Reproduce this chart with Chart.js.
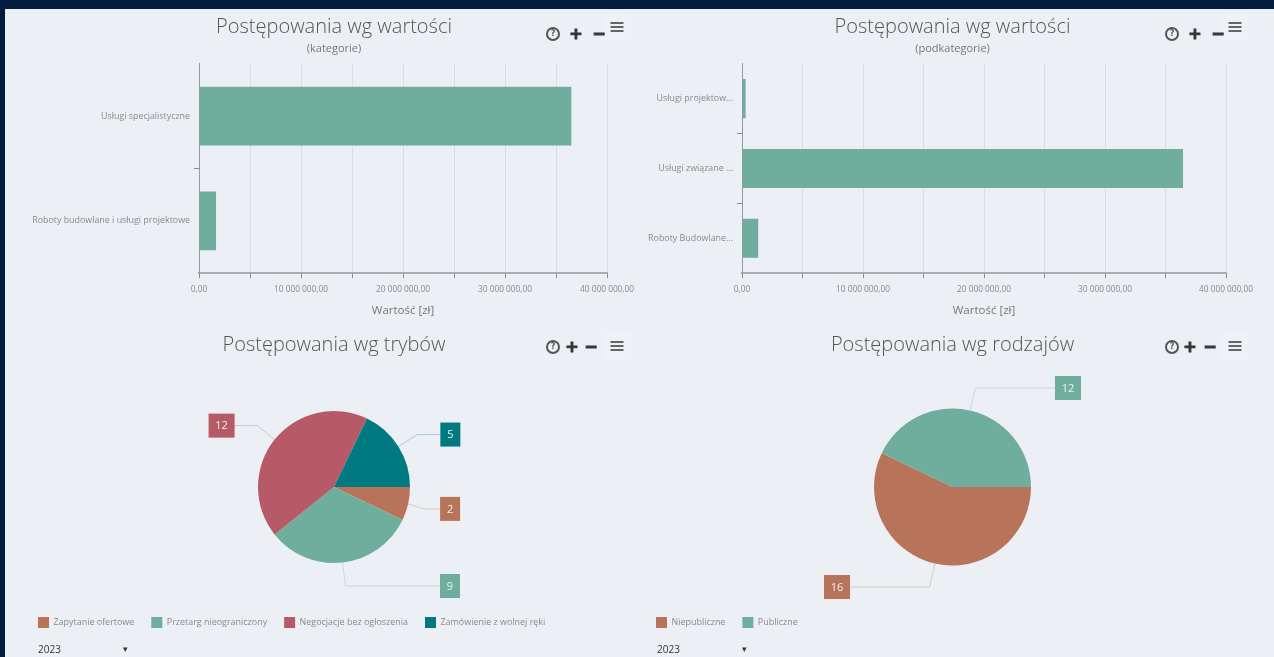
<!DOCTYPE html>
<html lang="pl"><head><meta charset="utf-8">
<script src="https://cdn.jsdelivr.net/npm/chart.js@4"></script>
<style>
html,body{margin:0;padding:0;width:1274px;height:657px;overflow:hidden;background:#001d3d}
#page{position:absolute;left:5px;top:9px;width:1269px;height:648px;background:#eceff4}
canvas{position:absolute;filter:blur(.55px)}
#ui{filter:blur(.55px)}
.ic{position:absolute;color:#333;font-family:"DejaVu Sans";font-weight:700;line-height:1;transform:translate(-50%,-50%);-webkit-text-stroke:1px #333}
.help{position:absolute;width:10px;height:10px;border:2px solid #555;border-radius:50%;transform:translate(-50%,-50%);font:700 8px/10px "DejaVu Sans";text-align:center;color:#555}
.menu{position:absolute;width:13px;height:10px;transform:translate(-50%,-50%);border-top:2px solid #666;border-bottom:2px solid #666;box-sizing:border-box}
.menu:after{content:"";position:absolute;left:0;right:0;top:2px;height:2px;background:#666}
.menuBox{position:absolute;width:28px;height:28px;background:#eef1f6;transform:translate(-50%,-50%);border-radius:2px}
.sel{position:absolute;font:10px "Open Sans";color:#333;transform:translateY(-50%)}
</style></head><body>
<div id="page"></div>
<canvas id="c1" style="left:28px;top:9px" width="612" height="309"></canvas>
<canvas id="c2" style="left:640px;top:9px" width="625" height="309"></canvas>
<canvas id="c3" style="left:21px;top:330px" width="626" height="308"></canvas>
<canvas id="c4" style="left:639px;top:330px" width="627" height="308"></canvas>
<div id="ui"></div>
<script>
const categoryLabels = ["Usługi specjalistyczne", "Roboty budowlane i usługi projektowe"];
const categoryValues = [36500000, 1670000];
const subcategoryLabels = ["Usługi projektow...", "Usługi związane ...", "Roboty Budowlane..."];
const subcategoryValues = [300000, 36450000, 1340000];
const modeLabels = ["Zapytanie ofertowe", "Przetarg nieograniczony", "Negocjacje bez ogłoszenia", "Zamówienie z wolnej ręki"];
const modeValues = [2, 9, 12, 5];
const typeLabels = ["Niepubliczne", "Publiczne"];
const typeValues = [16, 12];
const green = "#6fae9c", rust = "#b8745b", red = "#b55a66", teal = "#007a80";
const modeColors = [rust, green, red, teal];
const typeColors = [rust, green];
// callout layout: offsets from the slice's outer mid-point [elbowDx, elbowDy, boxDx, boxDy]
const modeCallouts = [[16.5,5,42,5],[3,23.5,107.5,23.5],[-17,-14,-53,-14],[19,-12,52,-12]];
const typeCallouts = [[-5.5,23.5,-98,23.5],[5.5,-22.5,98,-22.5]];

const FONT = "'Open Sans'";
Chart.defaults.font.family = FONT;
Chart.defaults.animation = false;
Chart.defaults.responsive = false;

const fmt = v => {
  if (v % 10000000 !== 0) return "";
  return v === 0 ? "0,00" : String(v).replace(/\B(?=(\d{3})+$)/g, " ") + ",00";
};

// titles are centred on the whole panel, not on the part left after padding
const wideTitles = {
  id: "wideTitles",
  afterLayout(chart) {
    chart.boxes.forEach(b => {
      if (b.options && b.options.text !== undefined && b.isHorizontal && b.position === "top") {
        b.left = 0; b.right = chart.width;
      }
    });
  }
};

const callouts = {
  id: "callouts",
  afterDatasetsDraw(chart, args, opts) {
    const ctx = chart.ctx;
    chart.getDatasetMeta(0).data.forEach((arc, i) => {
      const p = arc.getProps(["x","y","startAngle","endAngle","outerRadius"], true);
      const mid = (p.startAngle + p.endAngle) / 2;
      const ax = p.x + Math.cos(mid) * p.outerRadius, ay = p.y + Math.sin(mid) * p.outerRadius;
      const [ex, ey, bx, by] = opts.offsets[i];
      const col = chart.data.datasets[0].backgroundColor[i];
      const w = String(chart.data.datasets[0].data[i]).length > 1 ? 26 : 20, h = 24;
      const cx = ax + bx, cy = ay + by;
      ctx.save();
      ctx.strokeStyle = col; ctx.globalAlpha = .3; ctx.lineWidth = 1;
      ctx.beginPath(); ctx.moveTo(ax, ay); ctx.lineTo(ax + ex, ay + ey); ctx.lineTo(cx, cy); ctx.stroke();
      ctx.globalAlpha = 1;
      ctx.fillStyle = col; ctx.fillRect(cx - w/2, cy - h/2, w, h);
      ctx.fillStyle = "#eef3f2"; ctx.font = "11px " + FONT; ctx.textAlign = "center"; ctx.textBaseline = "middle";
      ctx.fillText(chart.data.datasets[0].data[i], cx, cy + .5);
      ctx.restore();
    });
  }
};

function barChart(id, labels, values, sub, yw, padR) {
  return new Chart(document.getElementById(id), {
    type: "bar",
    data: { labels, datasets: [{ data: values, backgroundColor: green, categoryPercentage: 1, barPercentage: .56 }] },
    plugins: [wideTitles],
    options: {
      indexAxis: "y",
      layout: { padding: { right: padR, left: 0 } },
      plugins: {
        legend: { display: false }, tooltip: { enabled: false },
        title: { display: true, text: "Postępowania wg wartości", color: "#555", font: { size: 20, weight: 300 }, padding: { top: 6, bottom: 3 } },
        subtitle: { display: true, text: sub, color: "#777", font: { size: 11 }, padding: { top: 0, bottom: 8.5 } }
      },
      scales: {
        x: {
          min: 0, max: 40000000,
          ticks: { stepSize: 5000000, callback: fmt, autoSkip: false, maxRotation: 0, color: "#8a8a8a", font: { size: 8.3 }, padding: 6 },
          grid: { color: "#d9dee2", tickColor: "#8d8d8d", tickLength: 5 },
          border: { color: "#a9adb0", width: 2 },
          title: { display: true, text: "Wartość [zł]", color: "#777", font: { size: 11.5 }, padding: { top: 4, bottom: 0 } }
        },
        y: {
          afterFit(s) { s.width = yw; },
          ticks: { color: "#8a8a8a", font: { size: 8.9 }, padding: 4, autoSkip: false },
          grid: { drawOnChartArea: false, tickColor: c => c.index > 0 ? "#8d8d8d" : "transparent", tickLength: 5 },
          border: { color: "#9a9a9a" }
        }
      }
    }
  });
}

function pieChart(id, title, labels, values, colors, radius, offsets) {
  return new Chart(document.getElementById(id), {
    type: "pie",
    data: { labels, datasets: [{ data: values, backgroundColor: colors, borderWidth: 0, radius, rotation: 90 }] },
    plugins: [callouts],
    options: {
      plugins: {
        tooltip: { enabled: false },
        title: { display: true, text: title, color: "#555", font: { size: 20, weight: 300 }, padding: { top: 3, bottom: 17 } },
        legend: { position: "bottom", align: "start", labels: { boxWidth: 11, boxHeight: 11, padding: 17, color: "#8a8a8a", font: { size: 8.95 } } },
        callouts: { offsets }
      }
    }
  });
}

barChart("c1", categoryLabels, categoryValues, "(kategorie)", 171, 32);
barChart("c2", subcategoryLabels, subcategoryValues, "(podkategorie)", 102, 39);
pieChart("c3", "Postępowania wg trybów", modeLabels, modeValues, modeColors, 76, modeCallouts);
pieChart("c4", "Postępowania wg rodzajów", typeLabels, typeValues, typeColors, 78.5, typeCallouts);

const ui = document.getElementById("ui");
function add(html){ ui.insertAdjacentHTML("beforeend", html); }
[[553,576,599,617,34,27],[1172,1195,1218,1235,34,27],[553,572,591,617,347,346],[1172,1190,1210,1235,347,346]].forEach(([h,p,m,b,y,by])=>{
  add(`<div class="menuBox" style="left:${b}px;top:${by}px"></div>`);
  add(`<div class="help" style="left:${h}px;top:${y}px">?</div>`);
  add(`<div class="ic" style="left:${p}px;top:${y}px;font-size:16px">+</div>`);
  add(`<div class="ic" style="left:${m}px;top:${y}px;font-size:16px">−</div>`);
  add(`<div class="menu" style="left:${b}px;top:${by}px"></div>`);
});
[[38,127],[657,746]].forEach(([x,a])=>{
  add(`<div class="sel" style="left:${x}px;top:649px">2023</div>`);
  add(`<div class="sel" style="left:${a-4}px;top:648px;font-size:9px">▾</div>`);
});
</script>
</body></html>
